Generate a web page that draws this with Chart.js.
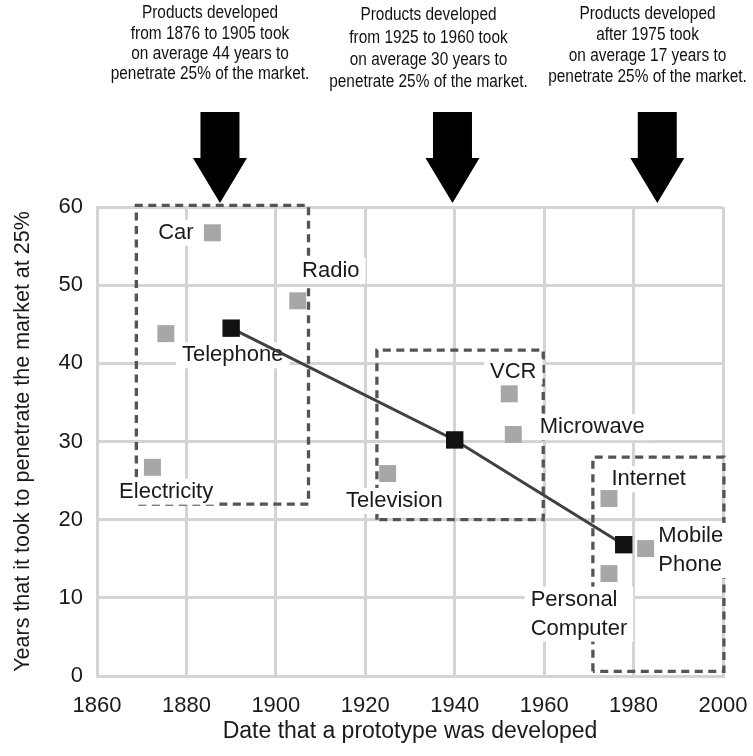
<!DOCTYPE html>
<html><head><meta charset="utf-8">
<script src="https://cdn.jsdelivr.net/npm/chart.js@4.4.0/dist/chart.umd.min.js"></script>
<style>html,body{margin:0;padding:0;background:#fff}canvas{display:block}</style>
</head><body>
<canvas id="c" width="753" height="756"></canvas>
<script>
// ---- data ----
const productNames = ['Car', 'Radio', 'Telephone', 'Electricity', 'Television', 'VCR', 'Microwave', 'Internet', 'Mobile\nPhone', 'Personal\nComputer'];
const productYears = [1885.8, 1904.9, 1875.4, 1872.4, 1925.0, 1952.2, 1953.1, 1974.5, 1982.7, 1974.5];
const productPenetration = [56.7, 48.0, 43.8, 26.7, 25.9, 36.1, 30.9, 22.7, 16.3, 13.1];

const periodYears = [1890, 1940, 1977.8];
const periodAverages = [44.5, 30.2, 16.8];

const periodBoxStart = [1868.8, 1922.6, 1970.9];
const periodBoxEnd = [1907.3, 1959.8, 2000.2];
const periodBoxLow = [22.0, 20.0, 0.6];
const periodBoxHigh = [60.2, 41.7, 28.0];

const periodTexts = [
  ['Products developed', 'from 1876 to 1905 took', 'on average 44 years to', 'penetrate 25% of the market.'],
  ['Products developed', 'from 1925 to 1960 took', 'on average 30 years to', 'penetrate 25% of the market.'],
  ['Products developed', 'after 1975 took', 'on average 17 years to', 'penetrate 25% of the market.']
];
const arrowYears = [1887.5, 1939.5, 1985.3];

const xTicks = [1860, 1880, 1900, 1920, 1940, 1960, 1980, 2000];
const yTicks = [0, 10, 20, 30, 40, 50, 60];

const xTitle = 'Date that a prototype was developed';
const yTitle = 'Years that it took to penetrate the market at 25%';

// ---- styles / layout ----
const FONT = '"Liberation Sans", Arial, sans-serif';
const labelStyle = [
  {dx: -36.5, dy: 0},
  {dx: 33, dy: -30},
  {dx: 66.8, dy: 21.7},
  {dx: 13.7, dy: 24.4},
  {dx: 6.7, dy: 27.4},
  {dx: 4, dy: -22.3},
  {dx: 79, dy: -7.3},
  {dx: 39.7, dy: -19.3},
  {dx: 12.7, dy: -12.6, left: true, lh: 29.3},
  {dx: -78.3, dy: 26, left: true, lh: 29}
];
const textBlocks = [
  {cx: 210, y0: 13.5, lh: 20.3},
  {cx: 428.5, y0: 15.5, lh: 22.2},
  {cx: 647.5, y0: 14.5, lh: 20.8}
];

const boxDatasets = periodBoxStart.map((s, i) => ({
  label: 'box' + i,
  type: 'line',
  data: [
    {x: s, y: periodBoxLow[i]},
    {x: s, y: periodBoxHigh[i]},
    {x: periodBoxEnd[i], y: periodBoxHigh[i]},
    {x: periodBoxEnd[i], y: periodBoxLow[i]},
    {x: s, y: periodBoxLow[i]}
  ],
  borderColor: '#545454',
  borderWidth: 3.3,
  borderDash: [8, 5.5],
  pointRadius: 0,
  fill: false,
  tension: 0,
  clip: false,
  order: 3
}));

const labelPlugin = {
  id: 'productLabels',
  beforeDatasetDraw(chart, args) {
    const ds = chart.data.datasets[args.index];
    if (ds.label !== 'products') return;
    const ctx = chart.ctx;
    const xs = chart.scales.x, ys = chart.scales.y;
    ctx.save();
    ctx.font = '22px ' + FONT;
    ctx.textBaseline = 'middle';
    productNames.forEach((name, i) => {
      const st = labelStyle[i];
      const px = xs.getPixelForValue(productYears[i]);
      const py = ys.getPixelForValue(productPenetration[i]);
      const lines = name.split('\n');
      const lh = st.lh || 26;
      const widths = lines.map(l => ctx.measureText(l).width);
      const w = Math.max(...widths);
      const cx = px + st.dx;
      const cy = py + st.dy;
      const left = st.left ? cx : cx - w / 2;
      const padX = 6, padY = 13;
      ctx.fillStyle = '#ffffff';
      ctx.fillRect(left - padX, cy - padY, w + 2 * padX, (lines.length - 1) * lh + 2 * padY);
      ctx.fillStyle = '#1a1a1a';
      ctx.textAlign = 'left';
      lines.forEach((l, k) => {
        const lx = st.left ? left : cx - widths[k] / 2;
        ctx.fillText(l, lx, cy + k * lh);
      });
    });
    ctx.restore();
  },
  afterDraw(chart) {
    const ctx = chart.ctx;
    const xs = chart.scales.x;
    ctx.save();
    // arrows
    ctx.fillStyle = '#000';
    arrowYears.forEach(yr => {
      const x = xs.getPixelForValue(yr);
      const top = 112, headY = 158, tip = 203, sw = 19.5, hw = 27;
      ctx.beginPath();
      ctx.moveTo(x - sw, top);
      ctx.lineTo(x + sw, top);
      ctx.lineTo(x + sw, headY);
      ctx.lineTo(x + hw, headY);
      ctx.lineTo(x, tip);
      ctx.lineTo(x - hw, headY);
      ctx.lineTo(x - sw, headY);
      ctx.closePath();
      ctx.fill();
    });
    // texts
    ctx.fillStyle = '#111111';
    ctx.font = '17.5px ' + FONT;
    ctx.textAlign = 'center';
    ctx.textBaseline = 'middle';
    periodTexts.forEach((lines, i) => {
      const b = textBlocks[i];
      lines.forEach((l, k) => {
        ctx.save();
        ctx.translate(b.cx, b.y0 + k * b.lh);
        ctx.scale(0.88, 1);
        ctx.fillText(l, 0, 0);
        ctx.restore();
      });
    });
    ctx.restore();
  }
};

const gridColor = '#d4d4d4';

new Chart(document.getElementById('c'), {
  type: 'scatter',
  data: {
    datasets: [
      {
        label: 'averages',
        type: 'line',
        data: periodYears.map((x, i) => ({x, y: periodAverages[i]})),
        showLine: true,
        borderColor: '#404040',
        borderWidth: 3,
        pointStyle: 'rect',
        pointRadius: 12.3,
        pointBackgroundColor: '#111111',
        pointBorderWidth: 0,
        pointBorderColor: '#111111',
        tension: 0,
        fill: false,
        clip: false,
        order: 1
      },
      {
        label: 'products',
        data: productYears.map((x, i) => ({x, y: productPenetration[i]})),
        pointStyle: 'rect',
        pointRadius: 12,
        pointBackgroundColor: '#a7a7a7',
        pointBorderWidth: 0,
        pointBorderColor: '#a7a7a7',
        clip: false,
        order: 2
      },
      ...boxDatasets
    ]
  },
  options: {
    responsive: false,
    devicePixelRatio: 1,
    animation: false,
    events: [],
    layout: {padding: {top: 207, right: 30, left: 0, bottom: 0}},
    plugins: {legend: {display: false}, tooltip: {enabled: false}, title: {display: false}},
    scales: {
      x: {
        type: 'linear',
        min: 1860, max: 2000,
        afterBuildTicks: s => { s.ticks = xTicks.map(v => ({value: v})); },
        afterFit: s => { s.height = 80; s.paddingLeft = 0; s.paddingRight = 0; },
        ticks: {color: '#1a1a1a', font: {family: FONT, size: 22}, padding: 17, maxRotation: 0, autoSkip: false, callback: v => String(v)},
        grid: {color: gridColor, lineWidth: 3, drawTicks: false},
        border: {display: true, color: gridColor, width: 3},
        title: {display: true, text: xTitle, color: '#1a1a1a', font: {family: FONT, size: 23}, padding: {top: 0, bottom: 11}}
      },
      y: {
        type: 'linear',
        min: 0, max: 60,
        afterBuildTicks: s => { s.ticks = yTicks.map(v => ({value: v})); },
        afterFit: s => { s.width = 97; s.paddingTop = 0; s.paddingBottom = 0; },
        ticks: {color: '#1a1a1a', font: {family: FONT, size: 22}, padding: 14, callback: v => String(v)},
        grid: {color: gridColor, lineWidth: 3, drawTicks: false},
        border: {display: true, color: gridColor, width: 3},
        title: {display: true, text: yTitle, color: '#1a1a1a', font: {family: FONT, size: 21.5}, padding: {top: 10, bottom: 0}}
      }
    }
  },
  plugins: [labelPlugin]
});
</script>
</body></html>
